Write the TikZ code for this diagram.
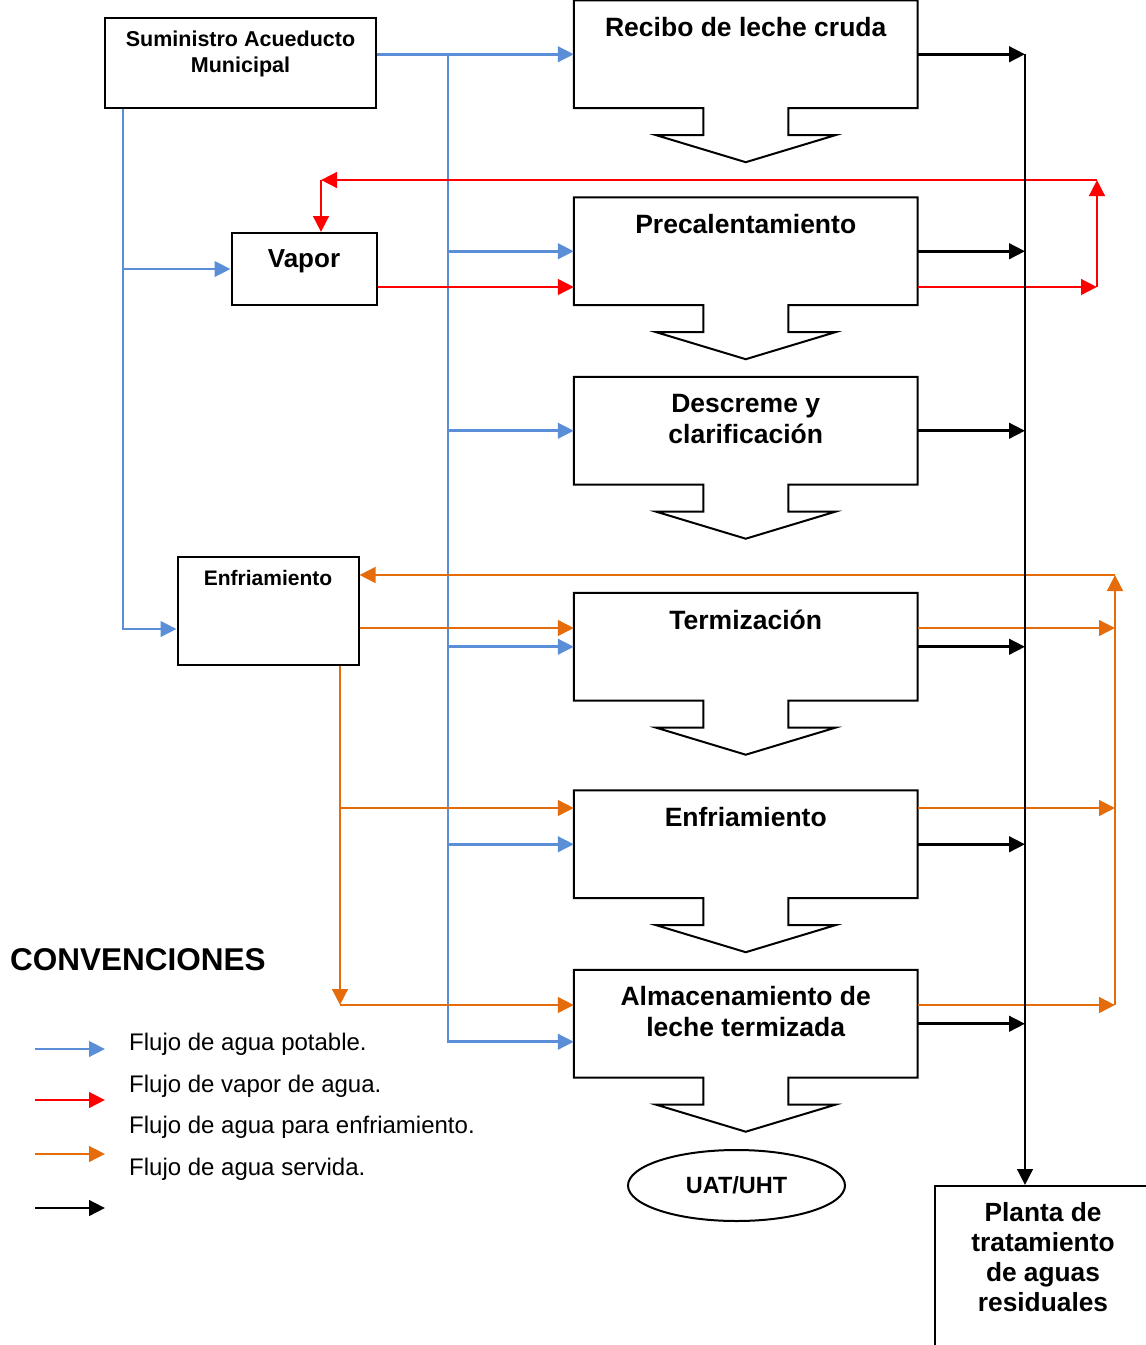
\documentclass[tikz,border=0pt]{standalone}
\usepackage{fontspec}
\setmainfont{Liberation Sans}
\usetikzlibrary{arrows.meta,shapes.geometric}
\definecolor{bluec}{HTML}{5A8FD8}
\definecolor{orc}{HTML}{E46C0A}
\definecolor{redc}{HTML}{FF0000}
\tikzset{
  arr/.style={-{Triangle[length=16pt,width=15.5pt]}},
  bl/.style={draw=bluec, line width=2.7pt, arr},
  rd/.style={draw=redc, line width=2.9pt, arr},
  og/.style={draw=orc, line width=2.9pt, arr},
  bk/.style={draw=black, line width=2.9pt, arr},
  boxline/.style={draw=black, line width=2pt, line join=miter},
  procnode/.style={rectangle, minimum width=343.5pt, minimum height=107.5pt, inner sep=0pt},
  plainbox/.style={rectangle, boxline, inner sep=0pt},
  proctext/.style={anchor=base, align=center, inner sep=0pt,
    font={\fontsize{26.5pt}{30.5pt}\selectfont\bfseries}},
  smalltext/.style={anchor=base, align=center, inner sep=0pt,
    font={\fontsize{21.5pt}{26pt}\selectfont\bfseries}},
  legtext/.style={anchor=base west, inner sep=0pt,
    font={\fontsize{24pt}{28pt}\selectfont}},
}
% name, centre y, text, offset of the last text baseline below the top
\newcommand\procbox[4]{%
  \node[procnode] (#1) at (745.75,#2) {};
  \draw[boxline] (#1.north west) -- (#1.north east) -- (#1.south east)
    -- ([xshift=42.5pt]#1.south) -- ++(0,27) -- ++(47,0)
    -- ([yshift=-54pt]#1.south) -- ++(-89.5,-27) -- ++(47,0)
    -- ++(0,-27) -- (#1.south west) -- cycle;
  \node[proctext] (#1-t) at ([yshift=-#4pt]#1.north) {#3};
}
\begin{document}
\begin{tikzpicture}[x=1pt,y=-1pt]
\clip (0,0) rectangle (1146,1345);
\fill[white] (0,0) rectangle (1146,1345);

% process boxes
\procbox{recibo}{54.25}{Recibo de leche cruda}{36}
\procbox{precal}{251.25}{Precalentamiento}{36.5}
\procbox{desc}{430.75}{Descreme y\\clarificación}{66.5}
\procbox{term}{646.75}{Termización}{36.5}
\procbox{enfr}{844.25}{Enfriamiento}{36.5}
\procbox{alm}{1023.75}{Almacenamiento de\\leche termizada}{66.5}

% other boxes
\node[plainbox, minimum width=271pt, minimum height=90pt] (sum) at (240.5,62.5) {};
\node[smalltext] (sum-t) at ([yshift=-56pt]sum.north) {Suministro Acueducto\\Municipal};
\node[plainbox, minimum width=145pt, minimum height=72pt] (vapor) at (304,269) {};
\node[proctext, font={\fontsize{26pt}{30pt}\selectfont\bfseries}] (vapor-t) at ([yshift=-35pt]vapor.north) {Vapor};
\node[plainbox, minimum width=181pt, minimum height=108pt] (enf1) at (268,611) {};
\node[smalltext, font={\fontsize{21pt}{25pt}\selectfont\bfseries}] (enf1-t) at ([yshift=-29pt]enf1.north) {Enfriamiento};
\node[ellipse, boxline, minimum width=217pt, minimum height=71pt, inner sep=0pt,
  font={\fontsize{23.5pt}{27pt}\selectfont\bfseries}] (uat) at (736.5,1185.5) {UAT/UHT};
\node[plainbox, minimum width=216pt, minimum height=174pt] (planta) at (1043,1273) {};
\node[proctext, font={\fontsize{26.3pt}{30pt}\selectfont\bfseries}] (planta-t) at ([yshift=-126pt]planta.north) {Planta de\\tratamiento\\de aguas\\residuales};

% helper coordinates
\coordinate (bx) at (448,0);
\coordinate (lx) at (123,0);
\coordinate (kx) at (1025,0);
\coordinate (r1) at (1097,287);
\coordinate (r2) at (1097,180);
\coordinate (r3) at (321,180);
\coordinate (oc) at (1115,575);
\coordinate (ob) at (1115,1005);
\coordinate (od) at (340,1005);
\coordinate (y628) at (0,628);
\coordinate (y808) at (0,808);

% blue
\draw[bl] (recibo.west -| sum.east) -- (recibo.west);
\draw[bl] (recibo.west -| bx) |- ([yshift=-18pt]alm.west);
\draw[bl] (precal.west -| bx) -- (precal.west);
\draw[bl] (desc.west -| bx) -- (desc.west);
\draw[bl] (term.west -| bx) -- (term.west);
\draw[bl] (enfr.west -| bx) -- (enfr.west);
\draw[bl] (sum.south -| lx) |- ([yshift=-18pt]enf1.west);
\draw[bl] (vapor.west -| lx) -- (vapor.west);

% red
\draw[rd] (vapor.east |- r1) -- (precal.west |- r1);
\draw[rd] (precal.east |- r1) -- (r1);
\draw[rd] (r1) -- (r2);
\draw[rd] (r2) -- (r3);
\draw[rd] (r3) -- (r3 |- vapor.north);

% orange
\draw[og] (ob) -- (oc);
\draw[og] (oc) -- (oc -| enf1.east);
\draw[og] (enf1.east |- y628) -- (term.west |- y628);
\draw[og] (term.east |- y628) -- (oc |- y628);
\draw[og] (enfr.east |- y808) -- (oc |- y808);
\draw[og] (alm.east |- ob) -- (ob);
\draw[og] (od |- enf1.south) -- (od);
\draw[og] (od |- y808) -- (enfr.west |- y808);
\draw[og] (od) -- (alm.west |- od);

% black
\draw[bk] (recibo.east) -- (recibo.east -| kx);
\draw[bk] (precal.east) -- (precal.east -| kx);
\draw[bk] (desc.east) -- (desc.east -| kx);
\draw[bk] (term.east) -- (term.east -| kx);
\draw[bk] (enfr.east) -- (enfr.east -| kx);
\draw[bk] (alm.east) -- (alm.east -| kx);
\draw[bk] (recibo.east -| kx) -- (kx |- planta.north);

% legend
\node[anchor=base west, inner sep=0pt, font={\fontsize{31.5pt}{36pt}\selectfont\bfseries}] (conv) at (10,970.5) {CONVENCIONES};
\coordinate (la1) at (35,1049); \coordinate (lb1) at (105,1049);
\coordinate (la2) at (35,1100); \coordinate (lb2) at (105,1100);
\coordinate (la3) at (35,1154); \coordinate (lb3) at (105,1154);
\coordinate (la4) at (35,1208); \coordinate (lb4) at (105,1208);
\draw[bl] (la1) -- (lb1);
\draw[rd] (la2) -- (lb2);
\draw[og] (la3) -- (lb3);
\draw[bk] (la4) -- (lb4);
\node[legtext] (l1) at (129,1050) {Flujo de agua potable.};
\node[legtext] (l2) at (129,1092.5) {Flujo de vapor de agua.};
\node[legtext] (l3) at (129,1133.5) {Flujo de agua para enfriamiento.};
\node[legtext] (l4) at (129,1175) {Flujo de agua servida.};
\end{tikzpicture}
\end{document}
